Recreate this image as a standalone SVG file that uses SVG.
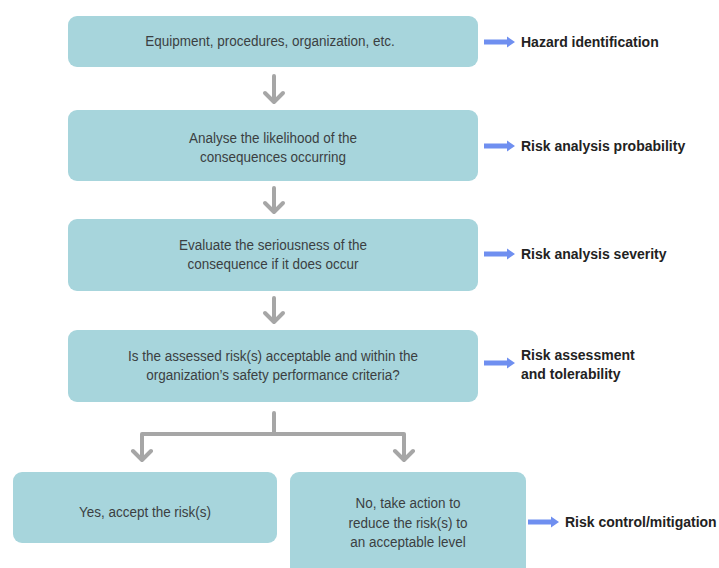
<svg xmlns="http://www.w3.org/2000/svg" width="719" height="568" viewBox="0 0 719 568">
<style>
.box{fill:#a7d5dc;}
.t{font-family:"Liberation Sans",Arial,sans-serif;font-size:15.5px;fill:#3b3f42;text-anchor:middle;}
.lbl{font-family:"Liberation Sans",Arial,sans-serif;font-size:14px;font-weight:bold;fill:#222;}
.g{fill:none;stroke:#a6a6a6;stroke-width:4;stroke-linecap:round;stroke-linejoin:round;}
.b{fill:#6f8ff0;}
</style>
<defs>
<path id="blue" class="b" d="M0,-2.5 H23 V-5.5 L31,0 L23,5.5 V2.5 H0 Z"/>
</defs>
<rect width="719" height="568" fill="#fff"/>
<g id="connectors">
<path class="g" d="M274,76 V101 M265,93 L274,102 L283,93"/>
<path class="g" d="M274,188 V211 M265,203 L274,212 L283,203"/>
<path class="g" d="M274,298 V321 M265,313 L274,322 L283,313"/>
<path class="g" d="M274,413 V434 M142,459 V434 H404 V459 M133,451 L142,460 L151,451 M395,451 L404,460 L413,451"/>
<use href="#blue" x="484" y="42"/>
<use href="#blue" x="484" y="146"/>
<use href="#blue" x="484" y="254"/>
<use href="#blue" x="484" y="363"/>
<use href="#blue" x="528" y="522"/>
</g>
<g id="n1"><rect class="box" x="68" y="16" width="410" height="51" rx="9"/>
<g transform="translate(270 0) scale(0.87 1)"><text class="t" x="0" y="46">Equipment, procedures, organization, etc.</text></g></g>
<g id="n2"><rect class="box" x="68" y="110" width="410" height="71" rx="9"/>
<g transform="translate(273 0) scale(0.87 1)"><text class="t" x="0" y="143">Analyse the likelihood of the</text>
<text class="t" x="0" y="162">consequences occurring</text></g></g>
<g id="n3"><rect class="box" x="68" y="219" width="410" height="72" rx="9"/>
<g transform="translate(273 0) scale(0.87 1)"><text class="t" x="0" y="250">Evaluate the seriousness of the</text>
<text class="t" x="0" y="269">consequence if it does occur</text></g></g>
<g id="n4"><rect class="box" x="68" y="330" width="410" height="72" rx="9"/>
<g transform="translate(273 0) scale(0.87 1)"><text class="t" x="0" y="361">Is the assessed risk(s) acceptable and within the</text>
<text class="t" x="0" y="380">organization’s safety performance criteria?</text></g></g>
<g id="n5"><rect class="box" x="13" y="472" width="264" height="71" rx="9"/>
<g transform="translate(145 0) scale(0.87 1)"><text class="t" x="0" y="517">Yes, accept the risk(s)</text></g></g>
<g id="n6"><rect class="box" x="290" y="472" width="236" height="110" rx="9"/>
<g transform="translate(408 0) scale(0.87 1)"><text class="t" x="0" y="508">No, take action to</text>
<text class="t" x="0" y="528">reduce the risk(s) to</text>
<text class="t" x="0" y="547">an acceptable level</text></g></g>
<g id="labels">
<text class="lbl" x="521" y="47">Hazard identification</text>
<text class="lbl" x="521" y="151">Risk analysis probability</text>
<text class="lbl" x="521" y="259">Risk analysis severity</text>
<text class="lbl" x="521" y="360">Risk assessment</text>
<text class="lbl" x="521" y="379">and tolerability</text>
<text class="lbl" x="565" y="527">Risk control/mitigation</text>
</g>
</svg>
